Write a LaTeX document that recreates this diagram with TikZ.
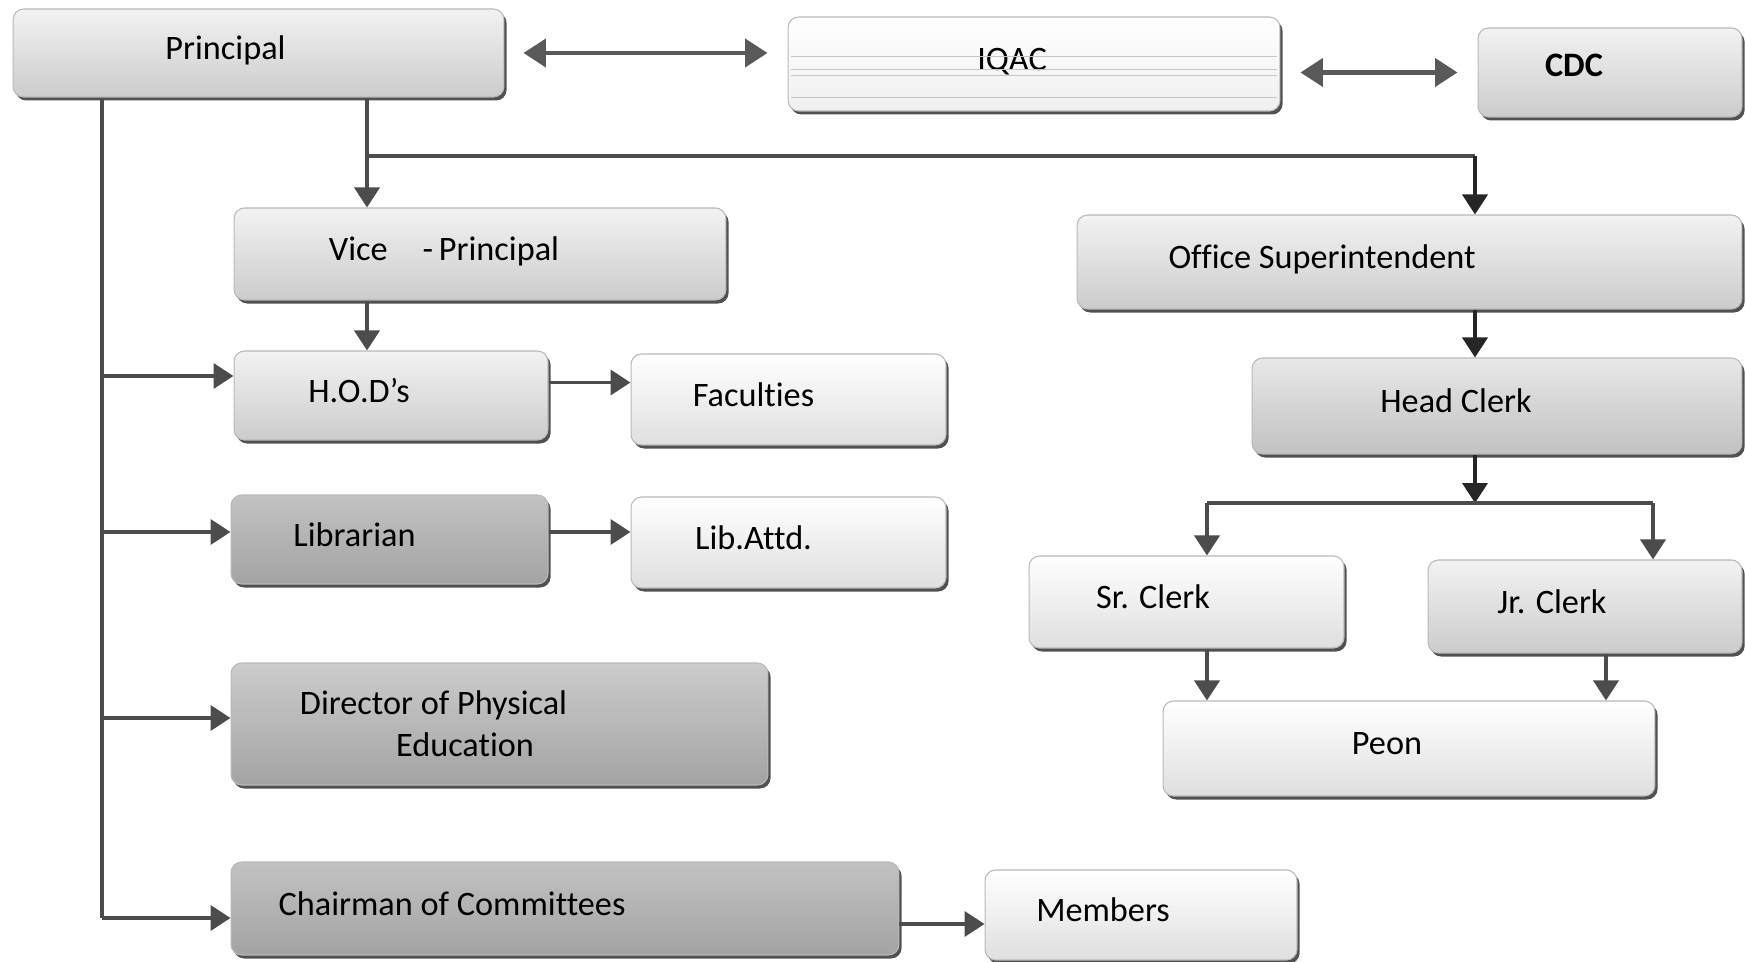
\documentclass[tikz,border=0pt]{standalone}
\usepackage{fontspec}
\setmainfont[Ligatures=NoCommon]{Carlito}
\usetikzlibrary{arrows.meta, shadows}

% text pushed left (and a little up) inside its box
\newcommand{\txtleft}[2]{\raisebox{0.2cm}{#2}\hspace*{#1}}

\begin{document}
\begin{tikzpicture}[x=0.02cm, y=-0.02cm]
  \tikzset{
    box/.style={rectangle, rounded corners=6pt, draw=gray!55, line width=0.6pt, inner sep=2pt,
      font=\fontsize{19.5}{24}\selectfont,
      drop shadow={shadow xshift=1.5pt, shadow yshift=-2pt, fill=black!80, opacity=0.85}},
    light_box/.style={box, top color=white, bottom color=gray!25},
    mid_box/.style={box, top color=gray!10, bottom color=gray!40},
    dark_box/.style={box, top color=gray!48, bottom color=gray!72},
    arrow_line/.style={-{Triangle[length=0.4cm, width=0.5cm]}, line width=2.2pt, draw=black!70},
    both_arrow/.style={{Triangle[length=0.45cm, width=0.56cm]}-{Triangle[length=0.45cm, width=0.56cm]}, line width=2.4pt, draw=black!65},
    plain_line/.style={line width=2.2pt, draw=black!70}
  }
  \useasboundingbox (0,0) rectangle (1745,962);

  % Fila superior
  \node[mid_box, minimum width=9.82cm, minimum height=1.76cm] (prin) at (258.5,53) {\txtleft{1.32cm}{Principal}};
  \node[light_box, top color=white, bottom color=gray!12, minimum width=9.84cm, minimum height=1.88cm] (iqac) at (1034,64) {\txtleft{0.88cm}{IQAC}};
  \node[mid_box, minimum width=5.28cm, minimum height=1.78cm] (cdc) at (1610,72.5) {\txtleft{1.44cm}{\raisebox{0.1cm}{\bfseries CDC}}};

  % líneas claras dentro de IQAC
  \foreach \yy in {56,69,75,97}
    \draw[gray!45, line width=0.4pt] ([xshift=2pt]iqac.west |- 0,\yy) -- ([xshift=-2pt]iqac.east |- 0,\yy);

  % Rama académica
  \node[mid_box, minimum width=9.84cm, minimum height=1.84cm] (vp) at (480,254) {\txtleft{1.44cm}{Vice\hspace{0.7cm}-\,Principal}};
  \node[mid_box, minimum width=6.28cm, minimum height=1.78cm] (hod) at (391,395.5) {\txtleft{1.28cm}{H.O.D’s}};
  \node[light_box, minimum width=6.3cm, minimum height=1.82cm] (fac) at (788.5,399.5) {\txtleft{1.4cm}{Faculties}};
  \node[dark_box, minimum width=6.34cm, minimum height=1.78cm] (lib) at (389.5,539.5) {\txtleft{1.4cm}{Librarian}};
  \node[light_box, minimum width=6.3cm, minimum height=1.82cm] (libatt) at (788.5,542.5) {\txtleft{1.4cm}{Lib.Attd.}};
  \node[dark_box, top color=gray!40, minimum width=10.74cm, minimum height=2.44cm, align=center] (dpe) at (499.5,724)
    {Director of Physical\hspace*{2.64cm}\\Education\hspace*{1.38cm}};
  \node[dark_box, minimum width=13.36cm, minimum height=1.86cm] (chair) at (565,908.5) {\txtleft{4.52cm}{Chairman of Committees}};
  \node[light_box, minimum width=6.24cm, minimum height=1.8cm] (memb) at (1141,915) {\txtleft{1.52cm}{Members}};

  % Rama administrativa
  \node[mid_box, minimum width=13.3cm, minimum height=1.88cm] (os) at (1409.5,262) {\txtleft{3.5cm}{Office Superintendent}};
  \node[mid_box, top color=gray!18, bottom color=gray!48, minimum width=9.8cm, minimum height=1.92cm] (hc) at (1497,406) {\txtleft{1.64cm}{Head Clerk}};
  \node[light_box, minimum width=6.3cm, minimum height=1.84cm] (sr) at (1186.5,602) {\txtleft{1.34cm}{Sr. Clerk}};
  \node[mid_box, minimum width=6.28cm, minimum height=1.86cm] (jr) at (1585,606.5) {\txtleft{1.32cm}{Jr. Clerk}};
  \node[light_box, minimum width=9.84cm, minimum height=1.9cm] (peon) at (1409,748.5) {\txtleft{0.88cm}{Peon}};

  % Puntos de quiebre
  \coordinate (pj) at (367,156);
  \coordinate (oj) at (1475,156);
  \coordinate (cj) at (1475,503);
  \coordinate (sj) at (1207,503);
  \coordinate (jj) at (1653,503);
  \coordinate (s1) at (102,376);
  \coordinate (s2) at (102,532);
  \coordinate (s3) at (102,718);
  \coordinate (s4) at (102,918);

  % Flechas dobles
  \draw[both_arrow, shorten <=0.38cm, shorten >=0.4cm] (prin.east) -- (prin.east -| iqac.west);
  \draw[both_arrow, shorten <=0.4cm, shorten >=0.4cm] (cdc.west -| iqac.east) -- (cdc.west);

  % Desde el director
  \draw[arrow_line] (prin.south -| pj) -- (vp.north -| pj);
  \draw[plain_line] (pj) -- (oj);
  \draw[arrow_line, draw=black!85] (oj) -- (os.north -| oj);
  \draw[arrow_line] (vp.south -| pj) -- (hod.north -| pj);

  % Línea vertical izquierda
  \draw[plain_line] (prin.south -| s4) -- (s4);
  \draw[arrow_line] (s1) -- (s1 -| hod.west);
  \draw[arrow_line] (s2) -- (s2 -| lib.west);
  \draw[arrow_line] (s3) -- (s3 -| dpe.west);
  \draw[arrow_line] (s4) -- (s4 -| chair.west);

  % Hacia la derecha
  \draw[arrow_line] ([yshift=0.26cm]hod.east) -- ([yshift=0.26cm]hod.east -| fac.west);
  \draw[arrow_line] ([yshift=0.15cm]lib.east) -- ([yshift=0.15cm]lib.east -| libatt.west);
  \draw[arrow_line] ([yshift=-0.31cm]chair.east) -- ([yshift=-0.31cm]chair.east -| memb.west);

  % Oficina
  \draw[arrow_line, draw=black!85] (os.south -| oj) -- (hc.north -| oj);
  \draw[arrow_line, draw=black!85] (hc.south -| cj) -- (cj);
  \draw[plain_line] (sj) -- (jj);
  \draw[arrow_line] (sj) -- (sr.north -| sj);
  \draw[arrow_line] (jj) -- (jr.north -| jj);
  \draw[arrow_line] ([xshift=0.41cm]sr.south) -- ([xshift=0.41cm]sr.south |- peon.north);
  \draw[arrow_line] ([xshift=0.42cm]jr.south) -- ([xshift=0.42cm]jr.south |- peon.north);
\end{tikzpicture}
\end{document}
